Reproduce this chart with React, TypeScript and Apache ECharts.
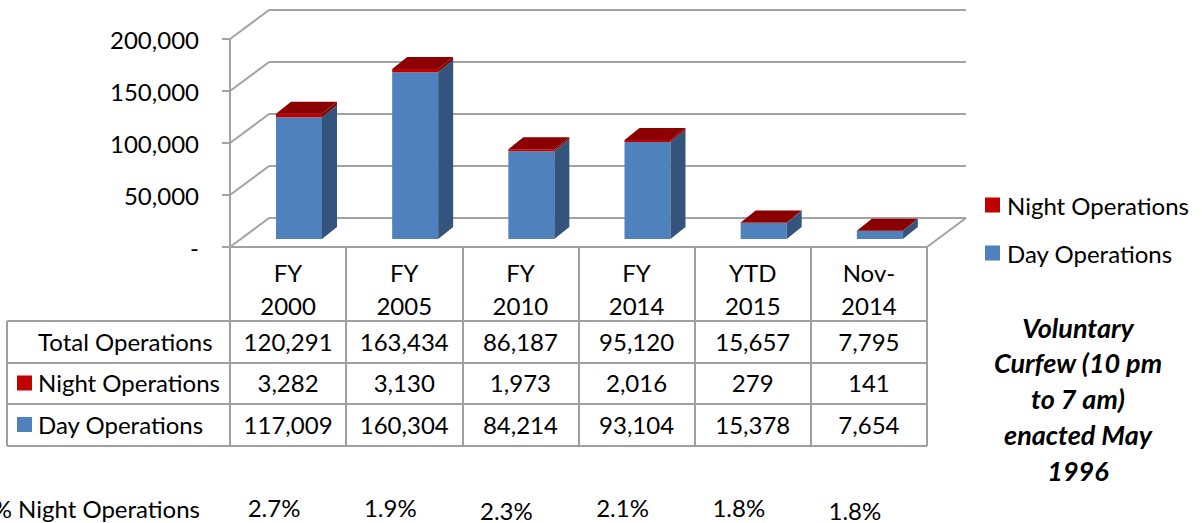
import React, { useEffect, useRef } from "react";
import * as echarts from "echarts";

// ---- data ----
const CATEGORIES = ["FY\n2000", "FY\n2005", "FY\n2010", "FY\n2014", "YTD\n2015", "Nov-\n2014"];
const TOTAL_OPS = [120291, 163434, 86187, 95120, 15657, 7795];
const NIGHT_OPS = [3282, 3130, 1973, 2016, 279, 141];
const DAY_OPS = [117009, 160304, 84214, 93104, 15378, 7654];
const PCT_NIGHT = ["2.7%", "1.9%", "2.3%", "2.1%", "1.8%", "1.8%"];
const Y_TICKS = [0, 50000, 100000, 150000, 200000];
const ROW_LABELS = ["Total Operations", "Night Operations", "Day Operations"];
const PCT_LABEL = "% Night Operations";
const NOTE_LINES = ["Voluntary", "Curfew (10 pm", "to 7 am)", "enacted May", "1996"];
const SERIES_NIGHT = "Night Operations";
const SERIES_DAY = "Day Operations";

// ---- layout / style ----
const W = 1202;
const H = 523;
const FRONT_LEFT = 230;
const FRONT_RIGHT = 927;
const FRONT_TOP = 39;
const FRONT_BOTTOM = 247;
const DEPTH_X = 39;
const DEPTH_Y = 29;
const BAR_FRONT = 0.28;
const BAR_DX = 15;
const BAR_DY = 12;
const BAR_W_RATIO = 0.396;
const TABLE_LEFT = 7;
const ROW_LINES = [321, 363, 404, 446];
const PCT_Y = 507;
const PCT_DY = [0, 0, 3, 0, 0, 3];
const FONT = "Lato";
const FS = 24;
const GRID_COLOR = "#A3A3A3";
const TABLE_COLOR = "#A0A0A0";
const BLUE = "#4F81BD";
const BLUE_SIDE = "#34547E";
const RED = "#C00000";
const RED_TOP = "#8B0000";
const RED_SIDE = "#7A0A0A";

const fmt = (v: number) => v.toLocaleString("en-US");

export default function App() {
  const ref = useRef<HTMLDivElement>(null);

  useEffect(() => {
    if (!ref.current) return;
    const chart = echarts.init(ref.current, undefined, { renderer: "svg" });
    const width = FRONT_RIGHT - FRONT_LEFT;
    const height = FRONT_BOTTOM - FRONT_TOP;

    const barGeom = (api: any, i: number) => {
      const base = api.coord([i, 0]);
      const band = api.size([1, 0])[0];
      const w = band * BAR_W_RATIO;
      const ox = DEPTH_X * BAR_FRONT;
      const oy = -DEPTH_Y * BAR_FRONT;
      const xl = base[0] - w / 2 + ox;
      return { xl, xr: xl + w, ox, oy, w };
    };

    const side = (xr: number, yt: number, yb: number, fill: string) => ({
      type: "polygon",
      shape: {
        points: [
          [xr, yt],
          [xr + BAR_DX, yt - BAR_DY],
          [xr + BAR_DX, yb - BAR_DY],
          [xr, yb],
        ],
      },
      style: { fill },
    });

    const txt = (text: string, x: number, y: number, align: string, extra: any = {}) => ({
      type: "text",
      style: {
        text,
        x,
        y,
        textAlign: align,
        align,
        textVerticalAlign: "middle",
        verticalAlign: "middle",
        fontFamily: FONT,
        fontSize: FS,
        fill: "#000",
        ...extra,
      },
    });

    const option: any = {
      animation: false,
      backgroundColor: "#fff",
      grid: [
        { left: FRONT_LEFT, top: FRONT_TOP, width, height },
        { left: FRONT_LEFT + DEPTH_X, top: FRONT_TOP - DEPTH_Y, width, height },
      ],
      xAxis: [
        {
          type: "category",
          gridIndex: 0,
          data: CATEGORIES,
          axisLine: { show: true, lineStyle: { color: TABLE_COLOR, width: 2 } },
          axisTick: {
            show: true,
            interval: 0,
            length: ROW_LINES[ROW_LINES.length - 1] - FRONT_BOTTOM,
            lineStyle: { color: TABLE_COLOR, width: 2 },
          },
          axisLabel: {
            interval: 0,
            margin: 9,
            fontFamily: FONT,
            fontSize: FS,
            lineHeight: 33,
            color: "#000",
          },
          splitLine: { show: false },
        },
        {
          type: "category",
          gridIndex: 1,
          data: CATEGORIES,
          show: false,
        },
      ],
      yAxis: [
        {
          type: "value",
          gridIndex: 0,
          min: 0,
          max: 200000,
          interval: 50000,
          axisLine: { show: true, lineStyle: { color: GRID_COLOR, width: 2 } },
          axisTick: { show: true, length: 8, lineStyle: { color: GRID_COLOR, width: 2 } },
          axisLabel: {
            margin: 31,
            fontFamily: FONT,
            fontSize: FS,
            color: "#000",
            formatter: (v: number) => (v === 0 ? "-" : fmt(v)),
          },
          splitLine: { show: false },
        },
        {
          type: "value",
          gridIndex: 1,
          min: 0,
          max: 200000,
          interval: 50000,
          axisLine: { show: false },
          axisTick: { show: false },
          axisLabel: { show: false },
          splitLine: { show: true, lineStyle: { color: GRID_COLOR, width: 2 } },
        },
      ],
      legend: {
        data: [SERIES_NIGHT, SERIES_DAY],
        orient: "vertical",
        left: 985,
        top: 193,
        padding: 0,
        icon: "rect",
        itemWidth: 15,
        itemHeight: 15,
        itemGap: 24,
        textStyle: { fontFamily: FONT, fontSize: FS, lineHeight: 24, color: "#000", padding: [0, 0, 0, 2] },
        selectedMode: false,
      },
      series: [
        {
          type: "custom",
          name: "walls",
          xAxisIndex: 0,
          yAxisIndex: 0,
          z: 1,
          silent: true,
          data: Y_TICKS.map((v) => [0, v]),
          encode: { x: 0, y: 1 },
          renderItem: (params: any, api: any) => {
            const cs = params.coordSys;
            const v = api.value(1);
            const y = api.coord([0, v])[1];
            const st = { stroke: GRID_COLOR, lineWidth: 2 };
            const children: any[] = [
              { type: "line", shape: { x1: cs.x, y1: y, x2: cs.x + DEPTH_X, y2: y - DEPTH_Y }, style: st },
            ];
            if (v === 0) {
              const xr = cs.x + cs.width;
              children.push({
                type: "line",
                shape: { x1: xr, y1: y, x2: xr + DEPTH_X, y2: y - DEPTH_Y },
                style: st,
              });
            }
            return { type: "group", children };
          },
        },
        {
          type: "custom",
          name: SERIES_DAY,
          xAxisIndex: 0,
          yAxisIndex: 0,
          z: 3,
          itemStyle: { color: BLUE },
          data: DAY_OPS.map((v, i) => [i, v]),
          encode: { x: 0, y: 1 },
          renderItem: (params: any, api: any) => {
            const i = api.value(0);
            const g = barGeom(api, i);
            const yb = api.coord([i, 0])[1] + g.oy;
            const yt = api.coord([i, api.value(1)])[1] + g.oy;
            return {
              type: "group",
              children: [
                { type: "rect", shape: { x: g.xl, y: yt, width: g.w, height: yb - yt }, style: { fill: BLUE } },
                side(g.xr, yt, yb, BLUE_SIDE),
              ],
            };
          },
        },
        {
          type: "custom",
          name: SERIES_NIGHT,
          xAxisIndex: 0,
          yAxisIndex: 0,
          z: 4,
          itemStyle: { color: RED },
          data: NIGHT_OPS.map((v, i) => [i, v, DAY_OPS[i]]),
          encode: { x: 0, y: 1 },
          renderItem: (params: any, api: any) => {
            const i = api.value(0);
            const night = api.value(1);
            const day = api.value(2);
            const g = barGeom(api, i);
            const yb = api.coord([i, day])[1] + g.oy;
            const yt = api.coord([i, day + night])[1] + g.oy;
            return {
              type: "group",
              children: [
                { type: "rect", shape: { x: g.xl, y: yt, width: g.w, height: yb - yt }, style: { fill: RED } },
                side(g.xr, yt, yb, RED_SIDE),
                {
                  type: "polygon",
                  shape: {
                    points: [
                      [g.xl, yt],
                      [g.xl + BAR_DX, yt - BAR_DY],
                      [g.xr + BAR_DX, yt - BAR_DY],
                      [g.xr, yt],
                    ],
                  },
                  style: { fill: RED_TOP },
                },
              ],
            };
          },
        },
        {
          type: "custom",
          name: "table",
          xAxisIndex: 0,
          yAxisIndex: 0,
          z: 6,
          silent: true,
          data: CATEGORIES.map((_, i) => [i, 0]),
          encode: { x: 0, y: 1 },
          renderItem: (params: any, api: any) => {
            const i = params.dataIndex;
            const cx = api.coord([i, 0])[0];
            const rowsY = [0, 1, 2].map((r) => (ROW_LINES[r] + ROW_LINES[r + 1]) / 2 - 1);
            return {
              type: "group",
              children: [
                txt(fmt(TOTAL_OPS[i]), cx, rowsY[0], "center"),
                txt(fmt(NIGHT_OPS[i]), cx, rowsY[1], "center"),
                txt(fmt(DAY_OPS[i]), cx, rowsY[2], "center"),
                txt(PCT_NIGHT[i], cx - 14, PCT_Y + PCT_DY[i], "center"),
              ],
            };
          },
        },
      ],
      graphic: [
        // table horizontal lines
        ...ROW_LINES.map((y) => ({
          type: "line",
          shape: { x1: TABLE_LEFT, y1: y, x2: FRONT_RIGHT, y2: y },
          style: { stroke: TABLE_COLOR, lineWidth: 2 },
          z: 5,
        })),
        {
          type: "line",
          shape: { x1: TABLE_LEFT, y1: ROW_LINES[0], x2: TABLE_LEFT, y2: ROW_LINES[3] },
          style: { stroke: TABLE_COLOR, lineWidth: 2 },
          z: 5,
        },
        // row labels
        ...ROW_LABELS.map((label, r) => ({
          ...txt(label, 38, (ROW_LINES[r] + ROW_LINES[r + 1]) / 2 - 1, "left"),
          z: 6,
        })),
        {
          type: "rect",
          shape: { x: 17, y: (ROW_LINES[1] + ROW_LINES[2]) / 2 - 8, width: 15, height: 15 },
          style: { fill: RED },
          z: 6,
        },
        {
          type: "rect",
          shape: { x: 17, y: (ROW_LINES[2] + ROW_LINES[3]) / 2 - 8, width: 15, height: 15 },
          style: { fill: BLUE },
          z: 6,
        },
        { ...txt(PCT_LABEL, 200, PCT_Y + 1, "right"), z: 6 },
        ...NOTE_LINES.map((line, k) => ({
          ...txt(line, 1078, 327 + k * 35.8, "center", {
            fontWeight: "bold",
            fontStyle: "italic",
            fontSize: 27,
          }),
          z: 6,
        })),
      ],
    };

    chart.setOption(option);
    return () => chart.dispose();
  }, []);

  return (
    <div
      ref={ref}
      style={{ position: "fixed", left: 0, top: 0, width: W, height: H, background: "#fff" }}
    />
  );
}
